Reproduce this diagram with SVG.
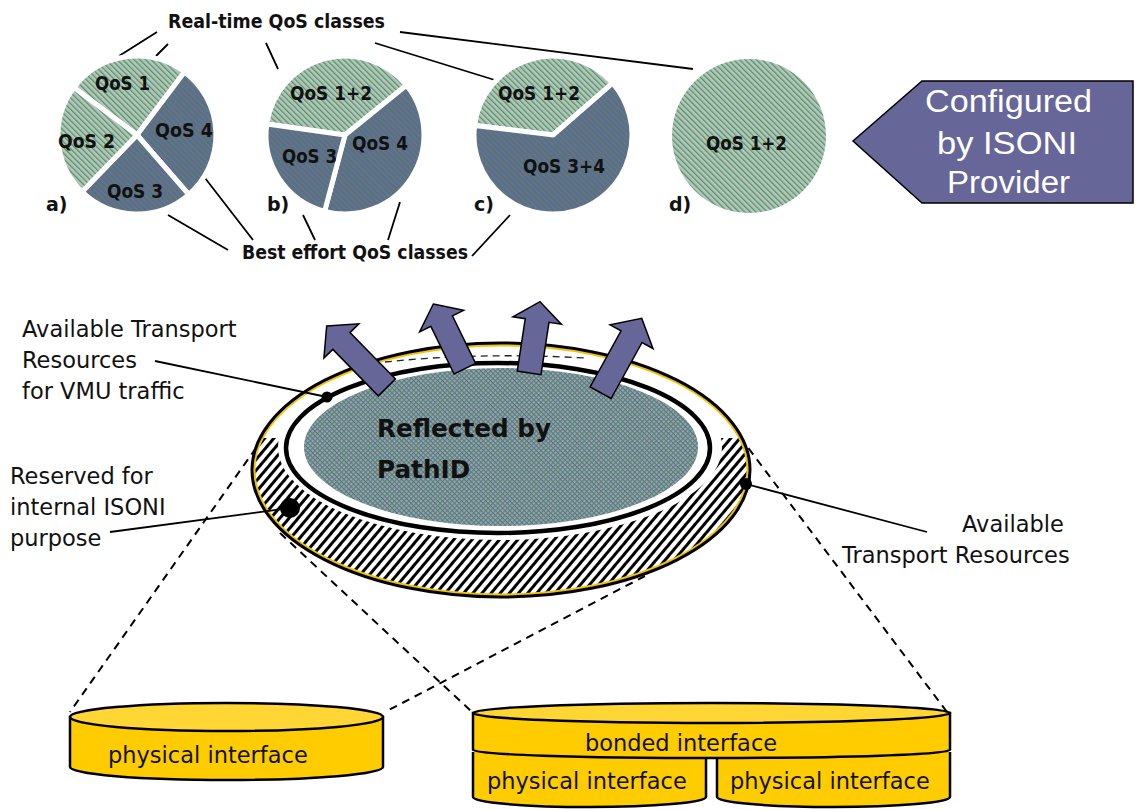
<svg xmlns="http://www.w3.org/2000/svg" width="1136" height="809" viewBox="0 0 1136 809">
<style>
.b{font-family:"DejaVu Sans",sans-serif;font-weight:bold;fill:#111}
.q{font-size:19px}
.h{font-size:19px}
.r{font-family:"DejaVu Sans",sans-serif;font-size:22.5px;fill:#111}
.ln{stroke:#000;stroke-width:1.8;fill:none}
.ds{stroke:#000;stroke-width:2;fill:none;stroke-dasharray:8 6}
.sl{fill:url(#pl);stroke:#fff;stroke-width:5}
.sd{fill:url(#pd);stroke:#fff;stroke-width:5}
.arw{fill:#666699;stroke:#000;stroke-width:1.5;stroke-linejoin:miter}
.cyl{fill:#ffcc00;stroke:#000;stroke-width:2.5}
.cyt{fill:#ffd633;stroke:#000;stroke-width:2.5}
.w{font-family:"Liberation Sans",Arial,sans-serif;font-size:31px;fill:#fff}
</style>
<defs>
<pattern id="pl" width="4" height="4" patternUnits="userSpaceOnUse" patternTransform="rotate(-45)"><rect width="4" height="4" fill="#bcc0c8"/><rect width="1.3" height="4" fill="#45a04d"/></pattern>
<pattern id="pd" width="4" height="4" patternUnits="userSpaceOnUse" patternTransform="rotate(-45)"><rect width="4" height="4" fill="#666699"/><rect width="0.9" height="4" fill="#3f9a45"/></pattern>
<pattern id="gx" width="3.4" height="3.4" patternUnits="userSpaceOnUse" patternTransform="rotate(45)"><rect width="3.4" height="3.4" fill="#9ea2b8"/><rect width="1.4" height="3.4" fill="#4a9c55"/><rect width="3.4" height="1" fill="#666699"/></pattern>
<pattern id="hb" width="7" height="7" patternUnits="userSpaceOnUse" patternTransform="rotate(40)"><rect width="7" height="7" fill="#fff"/><rect width="3" height="7" fill="#000"/></pattern>
<clipPath id="low"><rect x="0" y="438" width="1136" height="200"/></clipPath>
</defs>

<g id="connectors">
<path class="ln" d="M157,32 L119,56 M168,44 L156,56 M266,43 L278,69 M375,43 L498,81 M400,32 L693,69"/>
<path class="ln" d="M168,215 L228,250 M205,178 L253,240 M303,215 L315,240 M400,202 L388,240 M510,215 L472,256"/>
<path class="ds" d="M256,448 L70,712 M280,533 L472,712 M740,437 L947,712 M645,576 L385,712"/>
</g>

<g id="pie-a">
<path class="sl" d="M137,135 L73.9,87.5 A79,79 0 0 1 184.5,71.9 Z"/>
<path class="sd" d="M137,135 L184.5,71.9 A79,79 0 0 1 188.8,194.6 Z"/>
<path class="sd" d="M137,135 L188.8,194.6 A79,79 0 0 1 82.1,191.8 Z"/>
<path class="sl" d="M137,135 L82.1,191.8 A79,79 0 0 1 73.9,87.5 Z"/>
<text class="b q" x="95" y="90" textLength="55" lengthAdjust="spacingAndGlyphs">QoS 1</text>
<text class="b q" x="58" y="148" textLength="57" lengthAdjust="spacingAndGlyphs">QoS 2</text>
<text class="b q" x="155" y="137" textLength="58" lengthAdjust="spacingAndGlyphs">QoS 4</text>
<text class="b q" x="107" y="198" textLength="56" lengthAdjust="spacingAndGlyphs">QoS 3</text>
<text class="b q" x="46" y="211">a)</text>
</g>

<g id="pie-b">
<path class="sl" d="M345,135 L266.8,124 A79,79 0 0 1 406.4,85.3 Z"/>
<path class="sd" d="M345,135 L406.4,85.3 A79,79 0 0 1 324.6,211.3 Z"/>
<path class="sd" d="M345,135 L324.6,211.3 A79,79 0 0 1 266.8,124 Z"/>
<text class="b q" x="290" y="100" textLength="82" lengthAdjust="spacingAndGlyphs">QoS 1+2</text>
<text class="b q" x="282" y="163" textLength="55" lengthAdjust="spacingAndGlyphs">QoS 3</text>
<text class="b q" x="352" y="150" textLength="56" lengthAdjust="spacingAndGlyphs">QoS 4</text>
<text class="b q" x="267" y="211">b)</text>
</g>

<g id="pie-c">
<path class="sl" d="M553,135 L474.6,125.4 A79,79 0 0 1 612.6,83.2 Z"/>
<path class="sd" d="M553,135 L612.6,83.2 A79,79 0 1 1 474.6,125.4 Z"/>
<text class="b q" x="498" y="100" textLength="82" lengthAdjust="spacingAndGlyphs">QoS 1+2</text>
<text class="b q" x="523" y="173" textLength="82" lengthAdjust="spacingAndGlyphs">QoS 3+4</text>
<text class="b q" x="474" y="211">c)</text>
</g>

<g id="pie-d">
<circle cx="749" cy="136" r="77" fill="url(#pl)"/>
<text class="b q" x="706" y="150" textLength="81" lengthAdjust="spacingAndGlyphs">QoS 1+2</text>
<text class="b q" x="669" y="211">d)</text>
</g>

<g id="label-realtime"><text class="b h" x="168" y="28" textLength="217" lengthAdjust="spacingAndGlyphs">Real-time QoS classes</text></g>
<g id="label-besteffort"><text class="b h" x="242" y="259" textLength="226" lengthAdjust="spacingAndGlyphs">Best effort QoS classes</text></g>

<g id="callout">
<polygon points="853,141 922,81 1133,81 1133,203 922,203" fill="#666699" stroke="#000" stroke-width="1.5"/>
<text class="w" x="925" y="112" textLength="167" lengthAdjust="spacingAndGlyphs">Configured</text>
<text class="w" x="937" y="154" textLength="140" lengthAdjust="spacingAndGlyphs">by ISONI</text>
<text class="w" x="947" y="193" textLength="123" lengthAdjust="spacingAndGlyphs">Provider</text>
</g>

<g id="disc">
<ellipse cx="501" cy="470" rx="249" ry="127" fill="#fff"/>
<ellipse cx="501" cy="470" rx="247" ry="125" fill="url(#hb)" clip-path="url(#low)"/>
<ellipse cx="500" cy="447" rx="222" ry="93" fill="#fff"/>
<ellipse cx="501" cy="470" rx="246.5" ry="124.5" fill="none" stroke="#f5c400" stroke-width="2"/>
<ellipse cx="501" cy="470" rx="249" ry="127" fill="none" stroke="#000" stroke-width="3"/>
<ellipse cx="498" cy="448" rx="212" ry="85" fill="#fff" stroke="#000" stroke-width="4.5"/>
<ellipse cx="501" cy="447" rx="197" ry="79" fill="url(#gx)"/>
<path d="M385,362 Q480,352 585,358" fill="none" stroke="#222" stroke-width="1.3" stroke-dasharray="7 5"/>
<text class="b" font-size="24.7" x="377" y="437">Reflected by</text>
<text class="b" font-size="24.7" x="377" y="478">PathID</text>
</g>

<g id="arrows">
<polygon class="arw" transform="translate(326.7,326) rotate(-44.4)" points="0,0 24.5,21 12,21 12,86 -12,86 -12,21 -24.5,21"/>
<polygon class="arw" transform="translate(433.3,304) rotate(-26)" points="0,0 24.5,19 12,19 12,72 -12,72 -12,19 -24.5,19"/>
<polygon class="arw" transform="translate(540,301.7) rotate(8.7)" points="0,0 24.5,19 12,19 12,72 -12,72 -12,19 -24.5,19"/>
<polygon class="arw" transform="translate(641.7,318.3) rotate(28.9)" points="0,0 24.5,21 12,21 12,85 -12,85 -12,21 -24.5,21"/>
</g>

<g id="callouts-disc">
<line class="ln" x1="155" y1="361" x2="327" y2="397"/>
<circle cx="327" cy="397" r="5.5" fill="#000"/>
<line class="ln" x1="110" y1="532" x2="290" y2="508"/>
<circle cx="290" cy="508" r="10" fill="#000"/>
<line class="ln" x1="746" y1="484" x2="927" y2="532"/>
<circle cx="746" cy="484" r="6" fill="#000"/>
</g>

<g id="label-vmu">
<text class="r" x="22" y="337">Available Transport</text>
<text class="r" x="22" y="368">Resources</text>
<text class="r" x="22" y="399">for VMU traffic</text>
</g>
<g id="label-reserved">
<text class="r" x="10" y="484">Reserved for</text>
<text class="r" x="10" y="515">internal ISONI</text>
<text class="r" x="10" y="546">purpose</text>
</g>
<g id="label-available">
<text class="r" x="962" y="532">Available</text>
<text class="r" x="842" y="563">Transport Resources</text>
</g>

<g id="physical-interface">
<path class="cyl" d="M70,717 L70,767 A156.5,13 0 0 0 383,767 L383,717 Z"/>
<ellipse class="cyt" cx="226.5" cy="717" rx="156.5" ry="14"/>
<text class="r" x="108" y="763">physical interface</text>
</g>

<g id="bonded-interface">
<path class="cyl" d="M473,752 L473,797 A116.5,10 0 0 0 706,797 L706,756"/>
<path class="cyl" d="M717,756 L717,797 A116.5,10 0 0 0 950,797 L950,752"/>
<path class="cyl" d="M473,713 L473,750 A238.5,8 0 0 0 950,750 L950,713 Z"/>
<ellipse class="cyt" cx="711.5" cy="713" rx="238.5" ry="10"/>
<text class="r" x="681" y="751" text-anchor="middle">bonded interface</text>
<text class="r" x="487" y="789">physical interface</text>
<text class="r" x="730" y="789">physical interface</text>
</g>
</svg>
